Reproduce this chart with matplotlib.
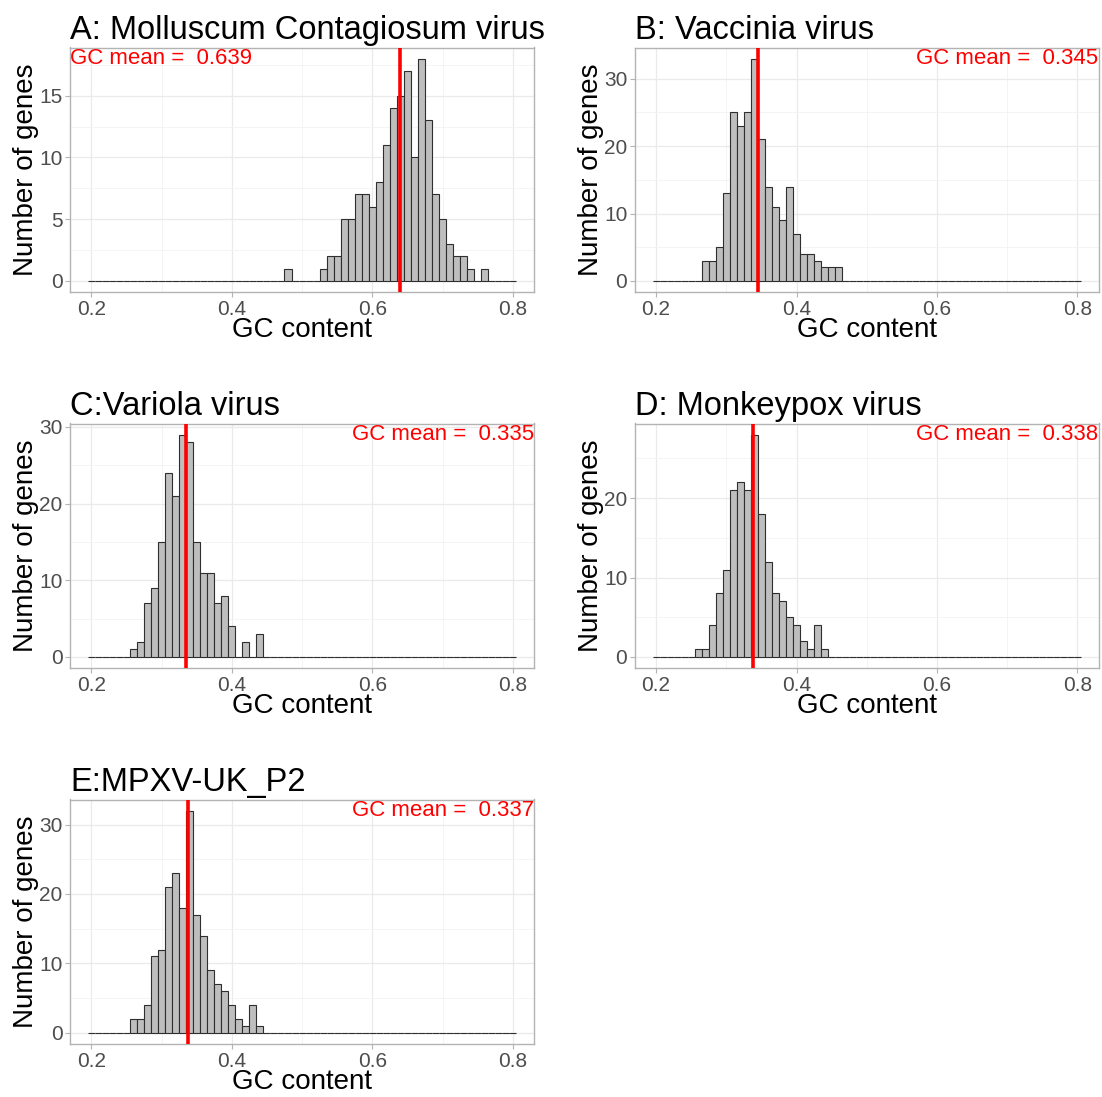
import matplotlib
matplotlib.use('Agg')
import matplotlib.pyplot as plt
import numpy as np
from matplotlib.ticker import FixedLocator

plt.rcParams['font.family'] = ['Liberation Sans', 'DejaVu Sans']

# ---------------- data ----------------
bin_width = 0.01
bin_lo = 0.20
bin_hi = 0.80

titles = ["A: Molluscum Contagiosum virus", "B: Vaccinia virus", "C:Variola virus",
          "D: Monkeypox virus", "E:MPXV-UK_P2"]
gc_means = [0.639, 0.345, 0.335, 0.338, 0.337]

# counts for consecutive bins (width 0.01) starting at the given bin centre
mcv_start = 0.48
mcv_counts = [1, 0, 0, 0, 0, 1, 2, 2, 5, 5, 7, 7, 6, 8, 11, 14, 15, 17, 10, 18, 13, 7, 5, 3, 2, 2, 1, 0, 1]

vacv_start = 0.27
vacv_counts = [3, 3, 5, 13, 25, 23, 25, 33, 21, 14, 11, 9, 14, 7, 4, 4, 3, 2, 2, 2]

varv_start = 0.26
varv_counts = [1, 2, 7, 9, 15, 24, 21, 29, 28, 15, 11, 11, 7, 8, 4, 0, 2, 0, 3]

mpxv_start = 0.26
mpxv_counts = [1, 1, 4, 8, 11, 21, 22, 21, 28, 18, 12, 8, 7, 5, 4, 2, 1, 4, 1]

uk_start = 0.26
uk_counts = [2, 2, 4, 11, 12, 21, 23, 18, 32, 17, 14, 9, 7, 6, 4, 2, 1, 4, 1]

y_ticks = [[0, 5, 10, 15], [0, 10, 20, 30], [0, 10, 20, 30], [0, 10, 20], [0, 10, 20, 30]]
x_ticks = [0.2, 0.4, 0.6, 0.8]
x_tick_labels = ["0.2", "0.4", "0.6", "0.8"]

starts = [mcv_start, vacv_start, varv_start, mpxv_start, uk_start]
counts_list = [mcv_counts, vacv_counts, varv_counts, mpxv_counts, uk_counts]

# ---------------- layout ----------------
W, H = 1102, 1097
fig = plt.figure(figsize=(W / 100, H / 100), dpi=100)

col_left = [70.3, 635.0]
ax_w = 463.5
row_top = [47.5, 423.5, 799.5]
ax_h = 244.5

positions = [(0, 0), (0, 1), (1, 0), (1, 1), (2, 0)]

centers = np.round(np.arange(bin_lo, bin_hi + bin_width / 2, bin_width), 2)

for i, (r, c) in enumerate(positions):
    left = col_left[c] / W
    bottom = 1 - (row_top[r] + ax_h) / H
    ax = fig.add_axes([left, bottom, ax_w / W, ax_h / H])

    full = np.zeros(len(centers))
    idx0 = int(round((starts[i] - bin_lo) / bin_width))
    full[idx0:idx0 + len(counts_list[i])] = counts_list[i]

    ax.bar(centers, full, width=bin_width, color='#BEBEBE', edgecolor='#2E2E2E',
           linewidth=0.8, zorder=2)
    ax.axvline(gc_means[i], color='#FF0000', lw=2.6, zorder=3)

    ymax = full.max()
    ax.set_ylim(-0.05 * ymax, 1.05 * ymax)
    ax.set_xlim(0.17, 0.83)

    ax.xaxis.set_major_locator(FixedLocator(x_ticks))
    ax.set_xticklabels(x_tick_labels)
    ax.xaxis.set_minor_locator(FixedLocator([0.3, 0.5, 0.7]))
    yt = y_ticks[i]
    ax.yaxis.set_major_locator(FixedLocator(yt))
    step = yt[1] - yt[0]
    ax.yaxis.set_minor_locator(FixedLocator(list(np.arange(step / 2, 1.05 * ymax, step))))

    ax.set_axisbelow(True)
    ax.grid(which='major', color='#EAEAEA', lw=0.9, zorder=0)
    ax.grid(which='minor', color='#F3F3F3', lw=0.6, zorder=0)

    for s in ax.spines.values():
        s.set_color('#B3B3B3')
        s.set_linewidth(1.0)
    ax.tick_params(which='major', length=3.5, width=0.8, color='#B3B3B3',
                   labelsize=15, labelcolor='#4D4D4D', pad=2)
    ax.tick_params(which='minor', length=0)

    ax.set_xlabel('GC content', fontsize=20, color='black', labelpad=-1)
    ax.set_ylabel('Number of genes', fontsize=20, color='black', labelpad=0)
    ax.set_title(titles[i], loc='left', fontsize=23.5, pad=6, color='black')

    label = 'GC mean =  %.3f' % gc_means[i]
    if i == 0:
        ax.text(0.0, 1.0, label, transform=ax.transAxes, ha='left', va='top',
                color='#FF0000', fontsize=16, zorder=4)
    else:
        ax.text(1.0, 1.0, label, transform=ax.transAxes, ha='right', va='top',
                color='#FF0000', fontsize=16, zorder=4)

fig.savefig('out.png', dpi=100, facecolor='white')
